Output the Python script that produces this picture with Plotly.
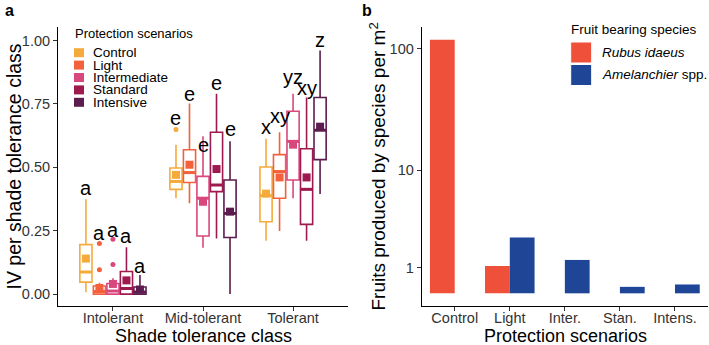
import numpy as np
import plotly.graph_objects as go

# ---------------- Panel a data ----------------
tolerance_classes = ["Intolerant", "Mid-tolerant", "Tolerant"]
scenarios = ["Control", "Light", "Intermediate", "Standard", "Intensive"]
scen_colors = ["#F5AB3C", "#F2603C", "#D9487C", "#9E1A4E", "#5C1D4E"]

# per scenario: values for [Intolerant, Mid-tolerant, Tolerant]
lowerfence = {
    "Control":      [0.007, 0.378, 0.210],
    "Light":        [0.000, 0.358, 0.249],
    "Intermediate": [0.000, 0.183, 0.378],
    "Standard":     [0.000, 0.219, 0.210],
    "Intensive":    [0.000, 0.000, 0.395],
}
q1 = {
    "Control":      [0.047, 0.413, 0.285],
    "Light":        [0.000, 0.440, 0.378],
    "Intermediate": [0.000, 0.229, 0.450],
    "Standard":     [0.000, 0.404, 0.275],
    "Intensive":    [0.000, 0.223, 0.530],
}
median = {
    "Control":      [0.087, 0.444, 0.388],
    "Light":        [0.010, 0.479, 0.483],
    "Intermediate": [0.012, 0.378, 0.602],
    "Standard":     [0.022, 0.430, 0.413],
    "Intensive":    [0.008, 0.318, 0.646],
}
q3 = {
    "Control":      [0.195, 0.497, 0.501],
    "Light":        [0.032, 0.569, 0.550],
    "Intermediate": [0.042, 0.464, 0.721],
    "Standard":     [0.089, 0.638, 0.573],
    "Intensive":    [0.028, 0.450, 0.775],
}
upperfence = {
    "Control":      [0.374, 0.589, 0.612],
    "Light":        [0.045, 0.751, 0.638],
    "Intermediate": [0.062, 0.622, 0.790],
    "Standard":     [0.185, 0.790, 0.775],
    "Intensive":    [0.075, 0.603, 0.960],
}
means = {
    "Control":      [0.140, 0.470, 0.396],
    "Light":        [0.024, 0.510, 0.460],
    "Intermediate": [0.040, 0.364, 0.589],
    "Standard":     [0.054, 0.493, 0.460],
    "Intensive":    [0.018, 0.325, 0.660],
}
# outliers: (class index, value)
outliers = {
    "Control":      [(1, 0.649)],
    "Light":        [(0, 0.199), (0, 0.096)],
    "Intermediate": [(0, 0.216), (0, 0.117)],
    "Standard":     [],
    "Intensive":    [],
}
letters = {
    "Control":      ["a", "e", "x"],
    "Light":        ["a", "e", "xy"],
    "Intermediate": ["a", "e", "yz"],
    "Standard":     ["a", "e", "xy"],
    "Intensive":    ["a", "e", "z"],
}
letter_y = {
    "Control":      [0.417, 0.695, 0.658],
    "Light":        [0.241, 0.790, 0.702],
    "Intermediate": [0.252, 0.589, 0.854],
    "Standard":     [0.228, 0.834, 0.814],
    "Intensive":    [0.112, 0.649, 1.002],
}

# ---------------- Panel b data ----------------
scen_b = ["Control", "Light", "Inter.", "Stan.", "Intens."]
rubus = [118.0, 1.07, None, None, None]
amelanchier = [None, 2.50, 1.34, 0.244, 0.334]
b_colors = ["#EF503A", "#1F4597"]
b_ticks = [1, 10, 100]


def pseudo_log(v):
    return None if v is None else float(np.arcsinh(v / 2.0))


FONT = "Liberation Sans, Arial, sans-serif"
W, H = 709, 345
dodge = 0.15
box_w = 0.135

fig = go.Figure()

# boxes
for j, s in enumerate(scenarios):
    pos = [i + 1 + (j - 2) * dodge for i in range(len(tolerance_classes))]
    fig.add_trace(go.Box(
        x=pos, q1=q1[s], median=median[s], q3=q3[s],
        lowerfence=lowerfence[s], upperfence=upperfence[s],
        width=box_w, whiskerwidth=0, boxpoints=False,
        line=dict(color=scen_colors[j], width=1.6),
        fillcolor="white", showlegend=False, hoverinfo="skip",
        xaxis="x", yaxis="y",
    ))
    # thicker median segment
    mx, my = [], []
    for p, m in zip(pos, median[s]):
        mx += [p - box_w / 2, p + box_w / 2, None]
        my += [m, m, None]
    fig.add_trace(go.Scatter(x=mx, y=my, mode="lines",
                             line=dict(color=scen_colors[j], width=3),
                             showlegend=False, hoverinfo="skip",
                             xaxis="x", yaxis="y"))

# outliers and means
for j, s in enumerate(scenarios):
    pos = [i + 1 + (j - 2) * dodge for i in range(len(tolerance_classes))]
    if outliers[s]:
        fig.add_trace(go.Scatter(
            x=[pos[ci] for ci, _ in outliers[s]],
            y=[v for _, v in outliers[s]],
            mode="markers", marker=dict(color=scen_colors[j], size=5),
            showlegend=False, hoverinfo="skip", xaxis="x", yaxis="y"))
    fig.add_trace(go.Scatter(
        x=pos, y=means[s], mode="markers",
        marker=dict(symbol="square", color=scen_colors[j], size=8),
        showlegend=False, hoverinfo="skip", xaxis="x", yaxis="y"))
    for p, t, ly in zip(pos, letters[s], letter_y[s]):
        fig.add_annotation(x=p, y=ly, xref="x", yref="y", text=t,
                           showarrow=False, xanchor="center", yanchor="middle",
                           font=dict(family=FONT, size=20, color="black"))

# bars panel b
fig.add_trace(go.Bar(x=scen_b, y=[pseudo_log(v) for v in rubus],
                     marker=dict(color=b_colors[0], line=dict(width=0)),
                     showlegend=False, xaxis="x2", yaxis="y2", hoverinfo="skip"))
fig.add_trace(go.Bar(x=scen_b, y=[pseudo_log(v) for v in amelanchier],
                     marker=dict(color=b_colors[1], line=dict(width=0)),
                     showlegend=False, xaxis="x2", yaxis="y2", hoverinfo="skip"))

fmax = max(pseudo_log(v) for v in rubus + amelanchier if v is not None)
b_range = [-0.05 * fmax, 1.05 * fmax]

ydom = [1 - 306 / H, 1 - 27 / H]
axis_common = dict(showline=True, linecolor="black", linewidth=1,
                   ticks="outside", ticklen=4, tickcolor="#333333",
                   showgrid=False, zeroline=False,
                   tickfont=dict(family=FONT, size=14.5, color="#333333"))

fig.update_layout(
    width=W, height=H, margin=dict(l=0, r=0, t=0, b=0),
    paper_bgcolor="white", plot_bgcolor="white",
    boxmode="overlay", barmode="group", bargap=0.1, bargroupgap=0,
    xaxis=dict(domain=[58 / W, 348 / W], range=[0.39, 3.61],
               tickvals=[1, 2, 3], ticktext=tolerance_classes,
               ticklabelstandoff=-5, anchor="y", **axis_common),
    yaxis=dict(domain=ydom, range=[-0.047, 1.053],
               tickvals=[0, 0.25, 0.5, 0.75, 1.0], tickformat=".2f",
               anchor="x", **axis_common),
    xaxis2=dict(domain=[421.7 / W, 708 / W], range=[-0.6, 4.6],
                type="category", ticklabelstandoff=-5, anchor="y2", **axis_common),
    yaxis2=dict(domain=ydom, range=b_range,
                tickvals=[pseudo_log(v) for v in b_ticks],
                ticktext=[str(v) for v in b_ticks],
                anchor="x2", **axis_common),
)

# titles and legends as text
def ann(x, y, text, size, xanchor="center", **kw):
    d = dict(x=x / W, y=1 - y / H, xref="paper", yref="paper", text=text,
             showarrow=False, xanchor=xanchor, yanchor="middle",
             font=dict(family=FONT, size=size, color="black"))
    d.update(kw)
    fig.add_annotation(**d)

ann(9, 11, "<b>a</b>", 16)
ann(367, 11, "<b>b</b>", 16)
ann(203, 335.5, "Shade tolerance class", 18)
ann(13, 166.5, "IV per shade tolerance class", 19.5, textangle=-90)
ann(565, 335.5, "Protection scenarios", 18)
ann(377, 166.5, "Fruits produced by species per m<sup>2</sup>", 19, textangle=-90)

# legend a
ann(73, 33, "Protection scenarios", 13, xanchor="left")
for j, s in enumerate(scenarios):
    yc = 52.7 + j * 12.4
    fig.add_shape(type="rect", xref="paper", yref="paper",
                  x0=74 / W, x1=84 / W, y0=1 - (yc - 4.5) / H, y1=1 - (yc + 4.5) / H,
                  fillcolor=scen_colors[j], line=dict(width=0))
    ann(91, yc, s, 13.5, xanchor="left")

# legend b
ann(569, 30, "Fruit bearing species", 13.5, xanchor="left")
b_labels = ["<i>Rubus idaeus</i>", "<i>Amelanchier</i> spp."]
for k in range(2):
    y0 = 42 + k * 22.5
    fig.add_shape(type="rect", xref="paper", yref="paper",
                  x0=570.7 / W, x1=591.7 / W, y0=1 - y0 / H, y1=1 - (y0 + 21) / H,
                  fillcolor=b_colors[k], line=dict(color="white", width=1))
    ann(600, y0 + 10.5, b_labels[k], 13.5, xanchor="left")

fig.write_html("out.html")
